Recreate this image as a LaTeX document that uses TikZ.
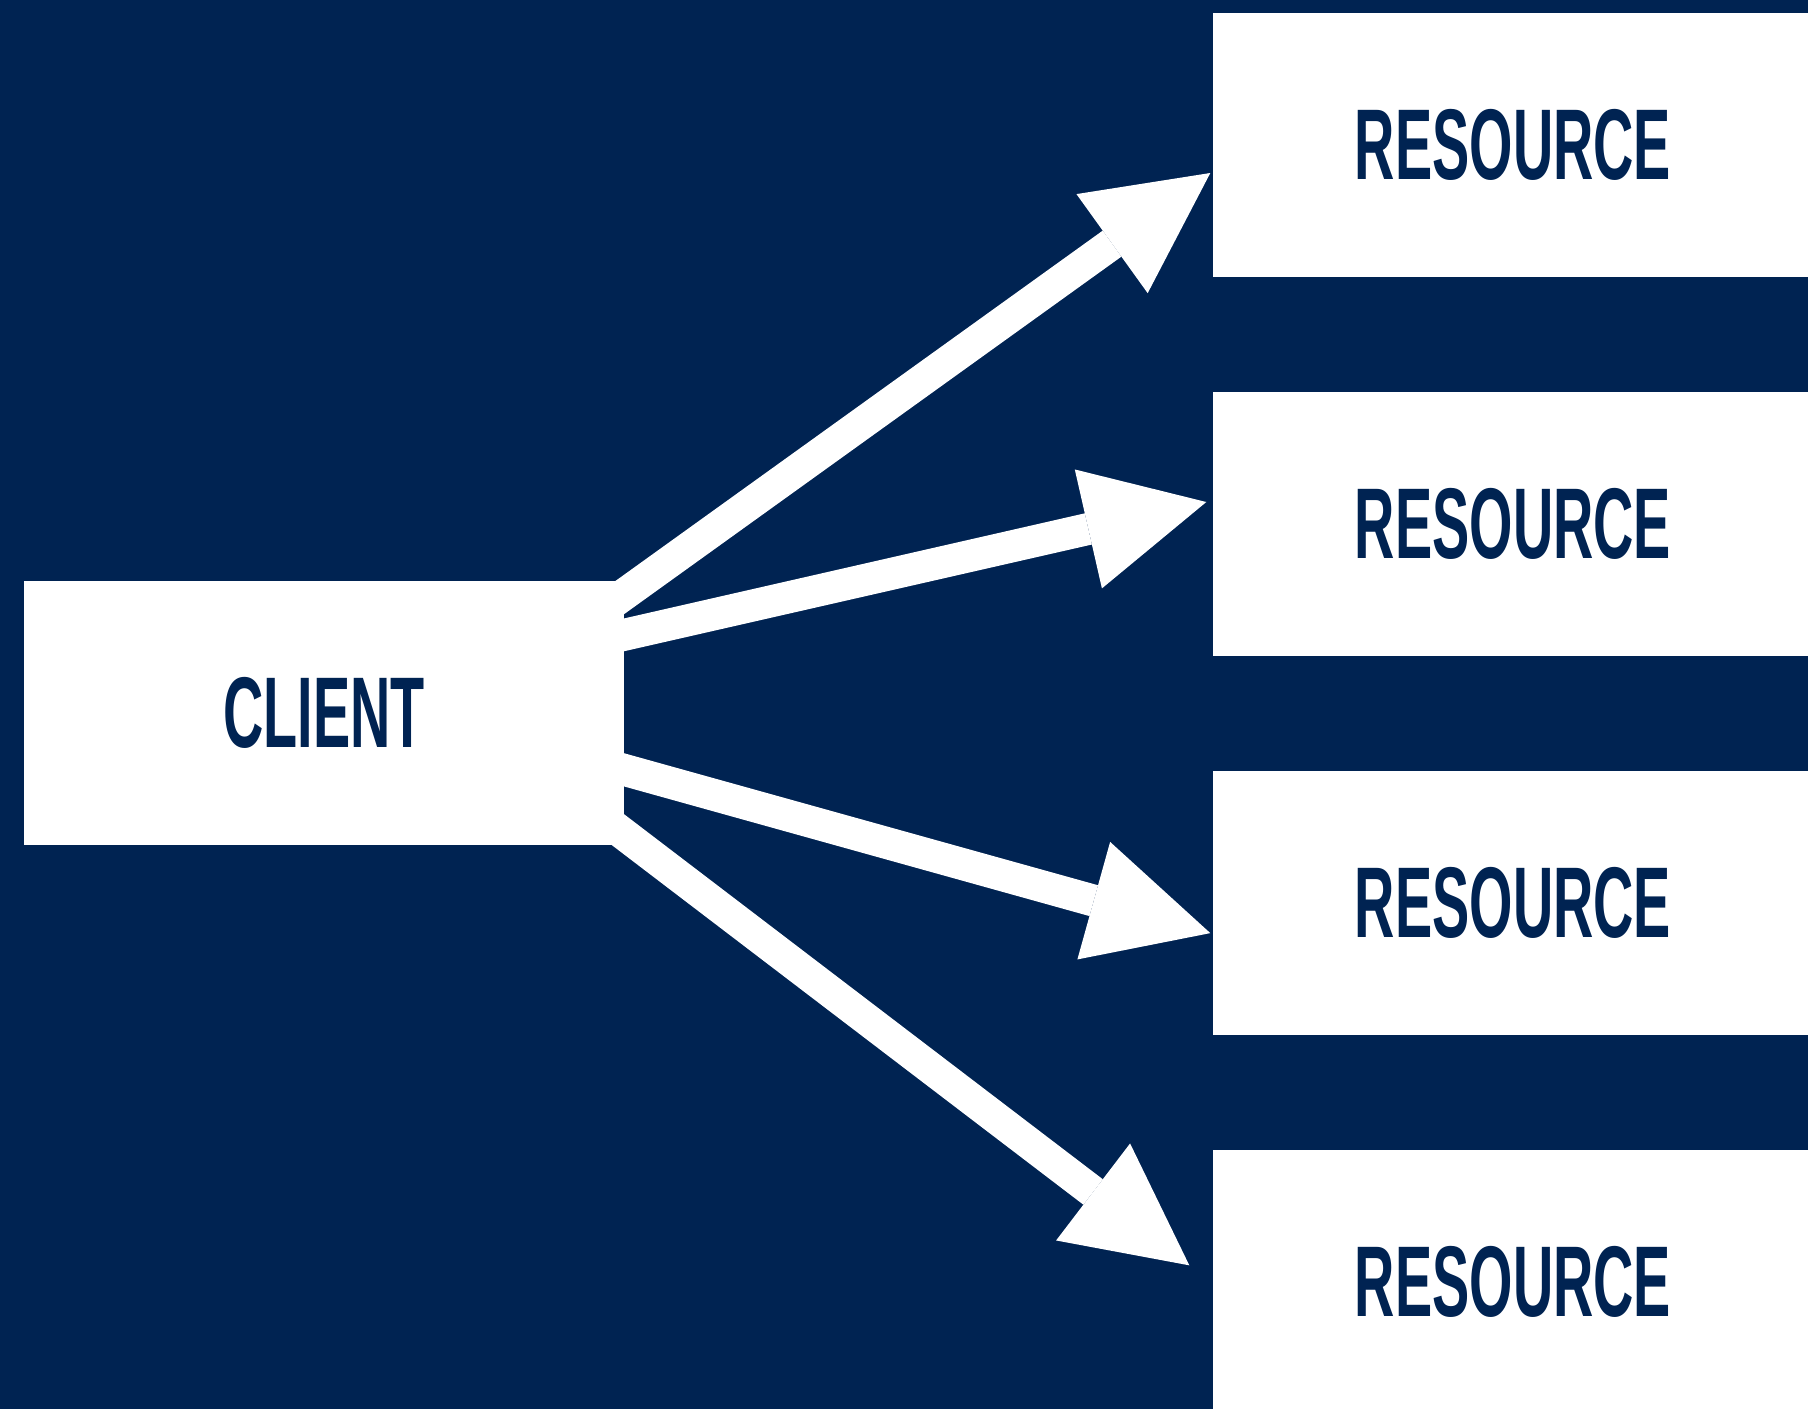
\documentclass[tikz,border=0pt]{standalone}
\usepackage{fontspec}
\setmainfont{Liberation Sans}
\newfontfamily\boxfont[FakeStretch=0.555]{Liberation Sans}
\usepackage{tikz}
\usetikzlibrary{arrows.meta, positioning}
\definecolor{navyback}{RGB}{0, 35, 82}
\pgfdeclarelayer{bg}
\pgfdeclarelayer{behind}
\pgfsetlayers{bg,behind,main}

\begin{document}
\begin{tikzpicture}[
    node distance=1.138cm,
    box/.style={fill=white, minimum width=6cm, minimum height=2.64cm, inner sep=0pt, text=navyback, font=\boxfont\bfseries\fontsize{28.6pt}{30pt}\selectfont},
    conn/.style={-{Triangle[length=1.21cm, width=1.22cm, line width=0pt]}, line width=0.32cm, white, shorten <=-0.3cm}
]

    \clip (0,0) rectangle (18.08,-14.09);
    \begin{pgfonlayer}{bg}
        \fill[navyback] (0,0) rectangle (18.08,-14.09);
    \end{pgfonlayer}

    % --- Client ---
    \node[box] (client) at (3.24,-7.126) {CLIENT};

    % --- Resources ---
    \node[box] (res1) at (15.13,-1.447) {RESOURCE};
    \node[box, below=of res1] (res2) {RESOURCE};
    \node[box, below=of res2] (res3) {RESOURCE};
    \node[box, below=of res3] (res4) {RESOURCE};

    % --- Requests (tails tucked under the client box) ---
    \begin{pgfonlayer}{behind}
        \draw[conn] ([yshift=1.186cm]client.east) -- ([xshift=-0.02cm, yshift=-0.283cm]res1.west);
        \draw[conn] ([yshift=0.779cm]client.east) -- ([xshift=-0.06cm, yshift=0.219cm]res2.west);
        \draw[conn] ([yshift=-0.574cm]client.east) -- ([xshift=-0.02cm, yshift=-0.3cm]res3.west);
        \draw[conn] ([yshift=-1.222cm]client.east) -- ([xshift=-0.23cm, yshift=0.17cm]res4.west); % stops short
    \end{pgfonlayer}

\end{tikzpicture}
\end{document}
